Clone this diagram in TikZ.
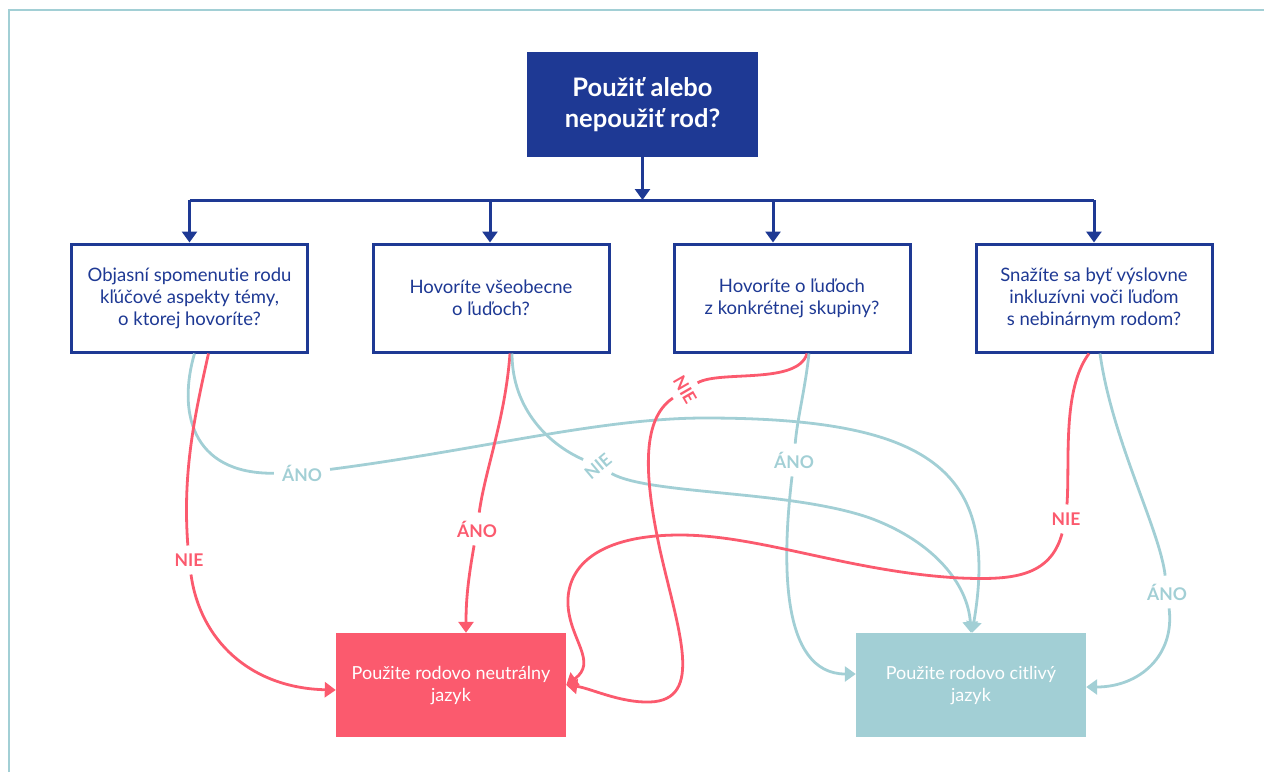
\documentclass[tikz,border=0pt]{standalone}
\usepackage{fontspec}
\setmainfont{Lato}[Ligatures={NoCommon}]
\usetikzlibrary{arrows.meta}
\definecolor{dkblue}{RGB}{30,57,148}
\definecolor{pinkred}{RGB}{251,90,110}
\definecolor{paleteal}{RGB}{162,207,213}
\tikzset{line cap=round,line join=round}

\begin{document}
\begin{tikzpicture}[x=1pt,y=-1pt,>={Triangle[width=15pt,length=11pt]},
    rootbox/.style={fill=dkblue,minimum width=231pt,minimum height=105pt,align=center,text=white,font=\bfseries\fontsize{25.5}{31}\selectfont},
    qbox/.style={draw=dkblue,line width=3pt,fill=white,minimum width=236pt,minimum height=108pt,align=center,text=dkblue,font=\fontsize{18.5}{22}\selectfont},
    endbox/.style={minimum width=230pt,minimum height=104pt,align=center,text=white,font=\fontsize{18}{22}\selectfont},
    blueline/.style={draw=dkblue,fill=dkblue,line width=3pt},
    tl/.style={draw=paleteal,fill=none,line width=2.8pt,>={Triangle[width=15pt,length=11pt,fill=paleteal]}},
    rl/.style={draw=pinkred,fill=none,line width=2.8pt,>={Triangle[width=15pt,length=11pt,fill=pinkred]}},
    tlbl/.style={text=paleteal,inner sep=8pt,font=\bfseries\fontsize{17.5}{17.5}\selectfont},
    rlbl/.style={text=pinkred,inner sep=8pt,font=\bfseries\fontsize{17.5}{17.5}\selectfont}]
    \useasboundingbox (0,0) rectangle (1264,772);
    \draw[paleteal,line width=2pt] (9,772) -- (9,10) -- (1264,10);
    % boxes
    \node[name=Root,rootbox] at (642.5,104.5) {Použiť alebo\\nepoužiť rod?};
    \node[name=Q1,qbox] at (189.5,298) {Objasní spomenutie rodu\\kľúčové aspekty témy,\\o ktorej hovoríte?};
    \node[name=Q2,qbox] at (491,298) {Hovoríte všeobecne\\o ľuďoch?};
    \node[name=Q3,qbox] at (792,298) {Hovoríte o ľuďoch\\z konkrétnej skupiny?};
    \node[name=Q4,qbox] at (1094,298) {Snažíte sa byť výslovne\\inkluzívni voči ľuďom\\s nebinárnym rodom?};
    \node[name=Neu,endbox,fill=pinkred] at (451,685) {Použite rodovo neutrálny\\jazyk};
    \node[name=Cit,endbox,fill=paleteal] at (971,685) {Použite rodovo citlivý\\jazyk};
    % bus
    \coordinate (bus) at (642.5,200);
    \draw[blueline,->] (Root.south) -- (bus);
    \foreach \i/\dx in {1/0,2/-1,3/-19,4/0}{%
    \path (Q\i.north) ++(\dx,0) coordinate (D\i);
    \draw[blueline,->] (D\i |- bus) -- (D\i);
    }
    \draw[blueline] (D1 |- bus) -- (D4 |- bus);
    % labels
    \node[name=A1,tlbl] at (302,473) {ÁNO};
    \node[name=B1,rlbl] at (189,560) {NIE};
    \node[name=B2,rlbl] at (477,529) {ÁNO};
    \node[name=A2,tlbl,rotate=40] at (598,466) {NIE};
    \node[name=B3,rlbl,rotate=-60] at (685,390) {NIE};
    \node[name=A3,tlbl] at (794,460) {ÁNO};
    \node[name=B4,rlbl] at (1066,519) {NIE};
    \node[name=A4,tlbl] at (1167,592) {ÁNO};
    % connectors
    \draw[tl] ([xshift=5pt]Q1.south) .. controls (178,410) and (190,474) .. (A1);
    \draw[tl,->] (A1) .. controls (480,450) and (600,418) .. (705,418) .. controls (930,418) and (1000,470) .. ([xshift=1pt]Cit.north);
    \draw[rl] ([xshift=19pt]Q1.south) .. controls (196,410) and (182,470) .. (B1);
    \draw[rl,->] (B1) .. controls (200,640) and (250,688) .. ([yshift=-5pt]Neu.west);
    \draw[rl] ([xshift=19pt]Q2.south) .. controls (505,420) and (485,470) .. (B2);
    \draw[rl,->] (B2) .. controls (468,580) and (466,600) .. ([xshift=15pt]Neu.north);
    \draw[tl] ([xshift=21pt]Q2.south) .. controls (512,410) and (550,445) .. (A2);
    \draw[tl,->] (A2) .. controls (650,495) and (790,490) .. (870,518) .. controls (935,542) and (968,585) .. (Cit.north);
    \draw[rl] ([xshift=15pt]Q3.south) .. controls (798,385) and (720,370) .. (B3);
    \draw[rl,->] (B3) .. controls (640,420) and (645,480) .. (660,550) .. controls (678,630) and (705,700) .. (650,702) .. controls (620,703) and (590,688) .. (Neu.east);
    \draw[tl] ([xshift=17pt]Q3.south) .. controls (805,390) and (797,420) .. (A3);
    \draw[tl,->] (A3) .. controls (782,560) and (780,674) .. ([yshift=11pt]Cit.west);
    \draw[rl] ([xshift=-5pt]Q4.south) .. controls (1062,390) and (1070,460) .. (B4);
    \draw[rl,->] (B4) .. controls (1050,578) and (1010,580) .. (960,578) .. controls (850,572) and (760,535) .. (680,535) .. controls (600,535) and (566,565) .. (568,605) .. controls (570,640) and (598,662) .. (Neu.east);
    \draw[tl] ([xshift=6pt]Q4.south) .. controls (1112,440) and (1160,530) .. (A4);
    \draw[tl,->] (A4) .. controls (1175,655) and (1140,687) .. ([yshift=-2pt]Cit.east);
\end{tikzpicture}
\end{document}
